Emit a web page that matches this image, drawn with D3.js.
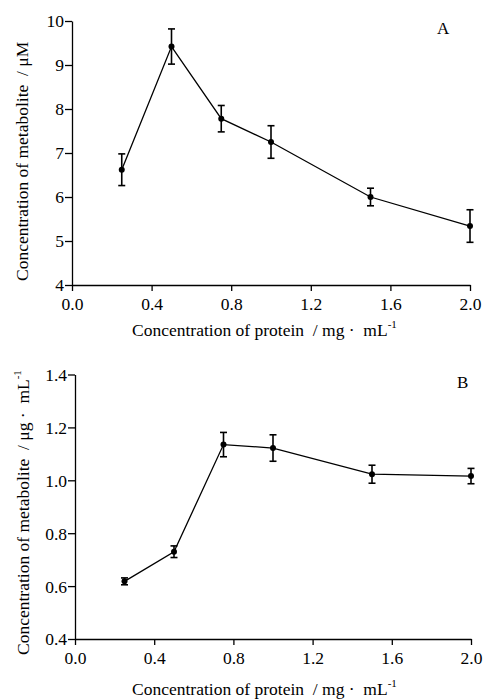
<!DOCTYPE html>
<html>
<head>
<meta charset="utf-8">
<script src="https://cdn.jsdelivr.net/npm/d3@7"></script>
<style>
  html, body { margin: 0; padding: 0; background: #fff; }
  svg { display: block; font-family: "Liberation Serif", "Times New Roman", serif; }
  svg text { white-space: pre; }
</style>
</head>
<body>
<svg id="chart" width="485" height="699"></svg>
<script>
// Protein concentration (mg·mL-1) used for both panels
const proteinConc = [0.25, 0.5, 0.75, 1.0, 1.5, 2.0];

// Panel A: metabolite concentration (μM) with standard deviation
const metaboliteA = [6.62, 9.42, 7.78, 7.25, 6.00, 5.34];
const errorA = [0.36, 0.40, 0.30, 0.37, 0.20, 0.37];

// Panel B: metabolite concentration (μg·mL-1) with standard deviation
const metaboliteB = [0.618, 0.730, 1.135, 1.122, 1.023, 1.016];
const errorB = [0.013, 0.022, 0.046, 0.050, 0.034, 0.029];

const xTicks = [0.0, 0.4, 0.8, 1.2, 1.6, 2.0];
const yTicksA = [4, 5, 6, 7, 8, 9, 10];
const yTicksB = [0.4, 0.6, 0.8, 1.0, 1.2, 1.4];

const svg = d3.select("#chart");
const FONT = "Liberation Serif, Times New Roman, serif";

function panel(cfg) {
  const x = d3.scaleLinear().domain([0, 2]).range([cfg.left, cfg.right]);
  const y = d3.scaleLinear().domain(cfg.yDomain).range([cfg.bottom, cfg.top]);
  const g = svg.append("g");

  const xAxis = g.append("g")
    .attr("transform", `translate(0,${cfg.bottom})`)
    .call(d3.axisBottom(x).tickValues(xTicks).tickFormat(d3.format(".1f")).tickSize(6).tickSizeOuter(0));
  const yAxis = g.append("g")
    .attr("transform", `translate(${cfg.left},0)`)
    .call(d3.axisLeft(y).tickValues(cfg.yTicks).tickFormat(cfg.yFormat).tickSize(7).tickSizeOuter(0));

  [xAxis, yAxis].forEach(a => {
    a.attr("font-family", FONT);
    a.select(".domain").attr("stroke", "#000").attr("stroke-width", 1.3);
    a.selectAll(".tick line").attr("stroke", "#000").attr("stroke-width", 1.3);
    a.selectAll(".tick text").attr("fill", "#000").attr("font-size", 17.5)
      .attr("font-family", FONT);
  });
  xAxis.selectAll(".tick text").attr("dy", null).attr("y", 25);
  yAxis.selectAll(".tick text").attr("x", -8).attr("dy", "0.34em");

  const data = proteinConc.map((c, i) => ({ c, v: cfg.values[i], e: cfg.errors[i] }));

  // Connecting line
  g.append("path")
    .datum(data)
    .attr("fill", "none")
    .attr("stroke", "#000")
    .attr("stroke-width", 1.3)
    .attr("d", d3.line().x(d => x(d.c)).y(d => y(d.v)));

  // Error bars
  const eb = g.append("g").attr("stroke", "#000").attr("stroke-width", 1.6);
  data.forEach(d => {
    const cx = x(d.c);
    eb.append("line").attr("x1", cx).attr("x2", cx).attr("y1", y(d.v - d.e)).attr("y2", y(d.v + d.e));
    eb.append("line").attr("x1", cx - 3.5).attr("x2", cx + 3.5).attr("y1", y(d.v + d.e)).attr("y2", y(d.v + d.e));
    eb.append("line").attr("x1", cx - 3.5).attr("x2", cx + 3.5).attr("y1", y(d.v - d.e)).attr("y2", y(d.v - d.e));
  });

  // Points
  g.selectAll("circle.pt").data(data).enter().append("circle")
    .attr("class", "pt")
    .attr("cx", d => x(d.c)).attr("cy", d => y(d.v)).attr("r", 3)
    .attr("fill", "#000");

  // Panel letter
  g.append("text").attr("x", cfg.letterX).attr("y", cfg.top + 13)
    .attr("font-size", 17).attr("fill", "#000").text(cfg.letter);

  // X axis title
  const xt = g.append("text").attr("x", 132).attr("y", cfg.xTitleY)
    .attr("font-size", 17.5).attr("fill", "#000");
  xt.append("tspan").text("Concentration of protein  / mg ·  mL");
  xt.append("tspan").attr("font-size", 11).attr("dy", -8).text("-1");

  // Y axis title
  const yt = g.append("text")
    .attr("transform", `translate(${cfg.yTitleX},${cfg.yTitleY}) rotate(-90)`)
    .attr("font-size", 17.5).attr("fill", "#000");
  cfg.yTitle(yt);
}

panel({
  left: 72, right: 470, top: 21, bottom: 285,
  yDomain: [4, 10], yTicks: yTicksA, yFormat: d3.format("d"),
  values: metaboliteA, errors: errorA,
  letter: "A", letterX: 437, xTitleY: 336, yTitleX: 28, yTitleY: 281,
  yTitle: t => t.append("tspan").text("Concentration of metabolite  / μM")
});

panel({
  left: 75, right: 471, top: 374.5, bottom: 639,
  yDomain: [0.4, 1.4], yTicks: yTicksB, yFormat: d3.format(".1f"),
  values: metaboliteB, errors: errorB,
  letter: "B", letterX: 457, xTitleY: 695, yTitleX: 29, yTitleY: 655,
  yTitle: t => {
    t.append("tspan").text("Concentration of metabolite  / μg ·  mL");
    t.append("tspan").attr("font-size", 11).attr("dy", -8).text("-1");
  }
});
</script>
</body>
</html>
